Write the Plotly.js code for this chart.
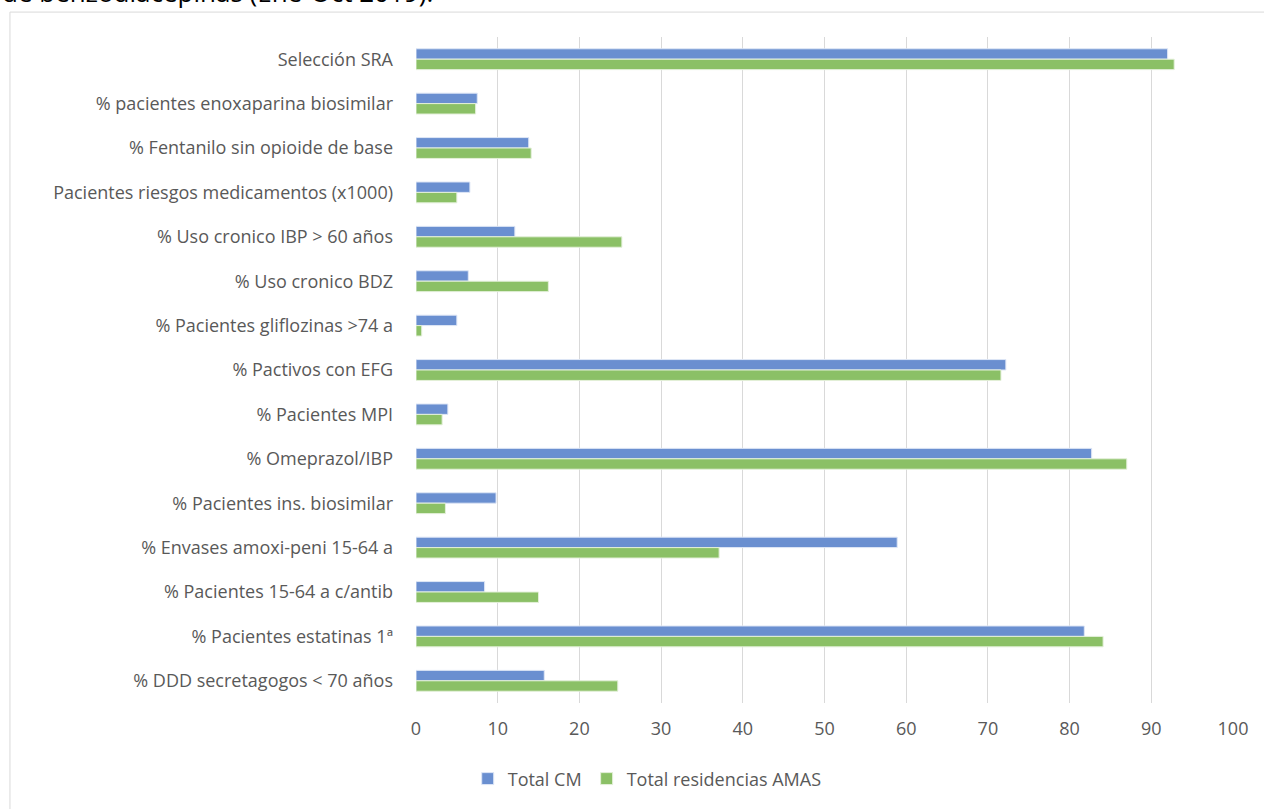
<!DOCTYPE html>
<html>
<head>
<meta charset="utf-8">
<script src="https://cdn.plot.ly/plotly-3.0.1.min.js"></script>
<style>
html,body{margin:0;padding:0;background:#fff;}
#chart{width:1264px;height:809px;}
</style>
</head>
<body>
<div id="chart"></div>
<script>
const categories = [
  "Selección SRA",
  "% pacientes enoxaparina biosimilar",
  "% Fentanilo sin opioide de base",
  "Pacientes riesgos medicamentos (x1000)",
  "% Uso cronico IBP > 60 años",
  "% Uso cronico BDZ",
  "% Pacientes gliflozinas >74 a",
  "% Pactivos con EFG",
  "% Pacientes MPI",
  "% Omeprazol/IBP",
  "% Pacientes ins. biosimilar",
  "% Envases amoxi-peni 15-64 a",
  "% Pacientes 15-64 a c/antib",
  "% Pacientes estatinas 1ª",
  "% DDD secretagogos < 70 años"
];
const totalCM = [92.0, 7.5, 13.8, 6.6, 12.1, 6.4, 5.0, 72.2, 3.9, 82.7, 9.8, 58.9, 8.4, 81.8, 15.7];
const totalAMAS = [92.8, 7.3, 14.1, 5.0, 25.2, 16.2, 0.7, 71.6, 3.2, 87.0, 3.6, 37.1, 15.0, 84.1, 24.7];
const seriesNames = ["Total CM", "Total residencias AMAS"];
const xTicks = [0, 10, 20, 30, 40, 50, 60, 70, 80, 90, 100];
const topText = "de benzodiacepinas (Ene-Oct 2019).";

const fontFam = "Open Sans, sans-serif";
const txtColor = "#595959";
const fs = 18;

const traces = [
  {type: "bar", orientation: "h", name: seriesNames[0], y: categories, x: totalCM,
   marker: {color: "#6a8fd0", line: {color: "#dfe7f6", width: 1}}, hoverinfo: "x+y"},
  {type: "bar", orientation: "h", name: seriesNames[1], y: categories, x: totalAMAS,
   marker: {color: "#8bc066", line: {color: "#e4f0da", width: 1}}, hoverinfo: "x+y"}
];

const layout = {
  width: 1264, height: 809,
  margin: {l: 416, r: 31, t: 37, b: 104, pad: 0},
  paper_bgcolor: "#fff", plot_bgcolor: "#fff",
  barmode: "group", bargap: 0.53, bargroupgap: 0,
  font: {family: fontFam, size: fs, color: txtColor},
  showlegend: true,
  legend: {orientation: "h", x: 0.283, xanchor: "center", y: -0.114, yanchor: "middle",
           font: {family: fontFam, size: fs, color: txtColor}, traceorder: "normal",
           itemwidth: 30},
  xaxis: {range: [0, 100], tickvals: xTicks, ticktext: xTicks.map(String),
          showgrid: true, gridcolor: "#d9d9d9", gridwidth: 1, zeroline: false,
          showline: false, ticks: "", ticklabelstandoff: 13,
          tickfont: {family: fontFam, size: fs, color: txtColor}, fixedrange: true},
  yaxis: {type: "category", autorange: "reversed", showgrid: false, zeroline: false,
          showline: false, ticks: "", ticklabelstandoff: 22,
          tickfont: {family: fontFam, size: fs, color: txtColor}, fixedrange: true},
  shapes: [
    {type: "rect", xref: "paper", yref: "paper", x0: -0.497, x1: 1.2, y0: -0.3, y1: 1.0374,
     line: {color: "#d9d9d9", width: 1}, fillcolor: "rgba(0,0,0,0)", layer: "below"}
  ],
  annotations: [
    {text: topText, xref: "paper", yref: "paper", x: -0.509, xanchor: "left",
     y: 1.037, yanchor: "bottom", showarrow: false,
     font: {family: "Open Sans, sans-serif", size: 26, color: "#000"}}
  ]
};

Plotly.newPlot("chart", traces, layout, {displayModeBar: false, staticPlot: true});
</script>
</body>
</html>
